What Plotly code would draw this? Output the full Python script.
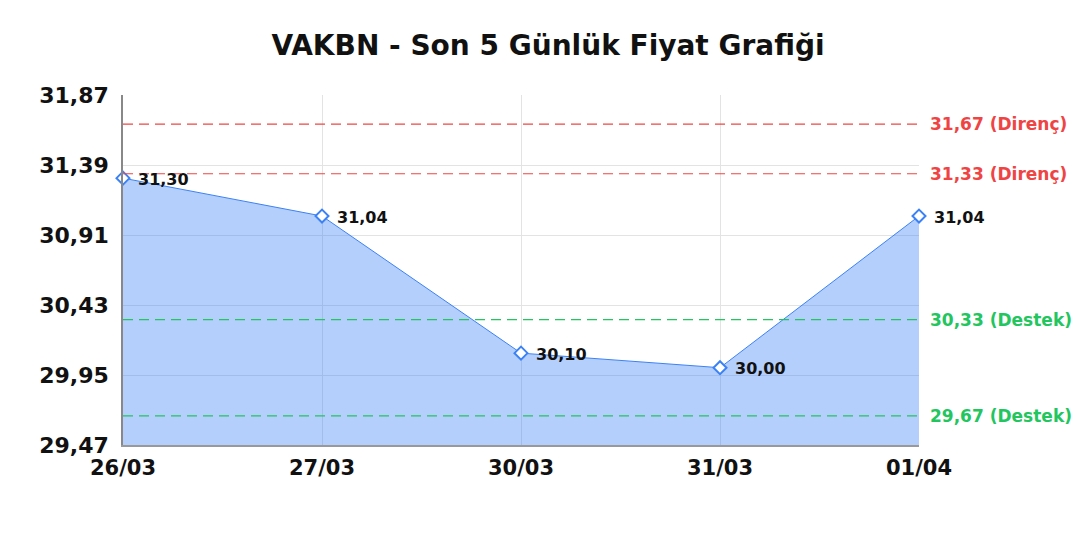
import plotly.graph_objects as go

# data
dates = ['26/03', '27/03', '30/03', '31/03', '01/04']
prices = [31.30, 31.04, 30.10, 30.00, 31.04]
resistance = [31.67, 31.33]
support = [30.33, 29.67]
y_ticks = [29.47, 29.95, 30.43, 30.91, 31.39, 31.87]

line_blue = '#3b82f6'
red = '#ef4444'
green = '#22c55e'

fig = go.Figure()
fig.add_trace(go.Scatter(
    x=dates, y=[y_ticks[0]] * len(dates), mode='lines',
    line=dict(width=0), hoverinfo='skip', showlegend=False))
fig.add_trace(go.Scatter(
    x=dates, y=prices, mode='lines+markers',
    fill='tonexty', fillcolor='rgba(59,130,246,0.38)',
    line=dict(color=line_blue, width=1),
    marker=dict(symbol='diamond', size=10, color='white', line=dict(width=2, color=line_blue)),
    cliponaxis=False, showlegend=False))

# price labels
for d, p in zip(dates, prices):
    fig.add_annotation(x=d, y=p, xanchor='left', xshift=13, yshift=-1,
                       text=f'<b>{p:.2f}</b>'.replace('.', ','), showarrow=False,
                       font=dict(family='DejaVu Sans', size=16, color='#111'))

# support / resistance lines
for val, col, name in [(v, red, 'Direnç') for v in resistance] + [(v, green, 'Destek') for v in support]:
    fig.add_shape(type='line', xref='paper', x0=0, x1=1, yref='y', y0=val, y1=val,
                  line=dict(color=col, width=1.2, dash='10px,6px'))
    fig.add_annotation(xref='paper', x=1, y=val, xanchor='left', xshift=9,
                       text=f'<b>{val:.2f} ({name})</b>'.replace('.', ','),
                       showarrow=False, font=dict(family='DejaVu Sans', size=17, color=col))

fig.update_layout(
    width=1080, height=540,
    separators=',.',
    title=dict(text='<b>VAKBN - Son 5 Günlük Fiyat Grafiği</b>', x=0.5, xanchor='center',
               y=0.932, yanchor='middle',
               font=dict(family='DejaVu Sans', size=28, color='#111')),
    margin=dict(l=115, r=169, t=87, b=103),
    plot_bgcolor='white', paper_bgcolor='white',
    font=dict(family='DejaVu Sans'),
)
fig.update_xaxes(range=[0, 4], showgrid=True, gridcolor='#e3e3e3',
                 showline=True, linecolor='#999', linewidth=2, ticks='',
                 ticklabelstandoff=3,
                 tickfont=dict(size=21, color='#111', weight='bold'))
fig.update_yaxes(range=[y_ticks[0], y_ticks[-1]], tickvals=y_ticks, tickformat='.2f',
                 showgrid=True, gridcolor='#e3e3e3', zeroline=False,
                 showline=True, linecolor='#888', linewidth=1.5, ticks='',
                 ticklabelstandoff=8,
                 tickfont=dict(size=22, color='#111', weight='bold'))

fig.write_html('out.html')
